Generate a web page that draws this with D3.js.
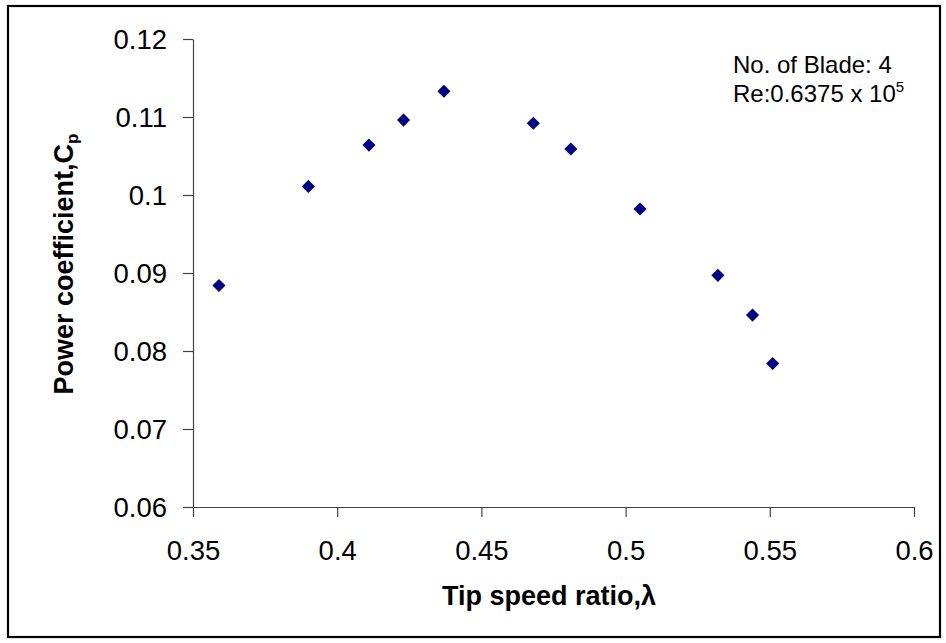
<!DOCTYPE html>
<html>
<head>
<meta charset="utf-8">
<script src="https://cdn.jsdelivr.net/npm/d3@7"></script>
<style>
  body { margin: 0; background: #fff; }
  svg { display: block; font-family: "Liberation Sans", Arial, sans-serif; }
</style>
</head>
<body>
<div id="canvas"></div>
<script>
"use strict"
let svgWidth = 946;
let svgHeight = 643;

let marginLeft = 193;
let marginRight = 32;
let marginTop = 39;
let marginBottom = 136;

// measured values: tip speed ratio vs power coefficient
let tipSpeedRatio = [0.359, 0.390, 0.411, 0.423, 0.437, 0.468, 0.481, 0.505, 0.532, 0.544, 0.551];
let powerCoeff = [0.0884, 0.1011, 0.1064, 0.1096, 0.1133, 0.1092, 0.1059, 0.0982, 0.0897, 0.0846, 0.0784];

let xTicks = [0.35, 0.4, 0.45, 0.5, 0.55, 0.6];
let xTickLabels = ["0.35", "0.4", "0.45", "0.5", "0.55", "0.6"];
let yTicks = [0.06, 0.07, 0.08, 0.09, 0.1, 0.11, 0.12];
let yTickLabels = ["0.06", "0.07", "0.08", "0.09", "0.1", "0.11", "0.12"];

let svg = d3.select("#canvas")
    .append("svg")
    .attr("width", svgWidth)
    .attr("height", svgHeight);

// outer frame round the whole chart
svg.append("rect")
    .attr("x", 8)
    .attr("y", 6)
    .attr("width", 932)
    .attr("height", 631)
    .attr("fill", "none")
    .attr("stroke", "black")
    .attr("stroke-width", 2.2);

let xScale = d3.scaleLinear()
    .domain([0.35, 0.6])
    .range([marginLeft, svgWidth - marginRight]);

let yScale = d3.scaleLinear()
    .domain([0.06, 0.12])
    .range([svgHeight - marginBottom, marginTop]);

// x axis along the bottom
let xAxis = svg.append("g")
    .attr("transform", "translate(0," + (svgHeight - marginBottom) + ")")
    .call(d3.axisBottom(xScale)
        .tickValues(xTicks)
        .tickFormat(function(d, i) { return xTickLabels[i]; })
        .tickSize(10)
        .tickSizeOuter(0)
        .tickPadding(23));

// y axis on the left
let yAxis = svg.append("g")
    .attr("transform", "translate(" + marginLeft + ",0)")
    .call(d3.axisLeft(yScale)
        .tickValues(yTicks)
        .tickFormat(function(d, i) { return yTickLabels[i]; })
        .tickSize(10)
        .tickSizeOuter(0)
        .tickPadding(16));

[xAxis, yAxis].forEach(function(g) {
    g.attr("font-family", null).attr("font-size", null);
    g.selectAll("path, line").attr("stroke", "#444").attr("stroke-width", 1.2);
    g.selectAll("text")
        .attr("fill", "black")
        .style("font-size", "27.5px");
});
yAxis.selectAll("text").attr("dy", "0.35em");

// diamond markers
let diamond = d3.symbol().type(d3.symbolSquare).size(86);

svg.selectAll(".pt")
    .data(tipSpeedRatio)
    .join("path")
    .attr("class", "pt")
    .attr("d", diamond)
    .attr("transform", function(d, i) {
        return "translate(" + xScale(d) + "," + yScale(powerCoeff[i]) + ") rotate(45)";
    })
    .attr("fill", "#000080");

// axis titles
svg.append("text")
    .attr("x", 549)
    .attr("y", 605)
    .attr("text-anchor", "middle")
    .attr("font-weight", "bold")
    .attr("font-size", "27px")
    .text("Tip speed ratio,λ");

let yTitle = svg.append("text")
    .attr("transform", "translate(73,264) rotate(-90)")
    .attr("text-anchor", "middle")
    .attr("font-weight", "bold")
    .attr("font-size", "27px");
yTitle.append("tspan").text("Power coefficient,C");
yTitle.append("tspan")
    .attr("font-size", "17px")
    .attr("dy", "5")
    .text("p");

// annotation, top right
svg.append("text")
    .attr("x", 733)
    .attr("y", 73)
    .attr("font-size", "24px")
    .text("No. of Blade: 4");

let reText = svg.append("text")
    .attr("x", 733)
    .attr("y", 102)
    .attr("font-size", "24px");
reText.append("tspan").text("Re:0.6375 x 10");
reText.append("tspan")
    .attr("font-size", "15px")
    .attr("dy", "-10")
    .text("5");
</script>
</body>
</html>
